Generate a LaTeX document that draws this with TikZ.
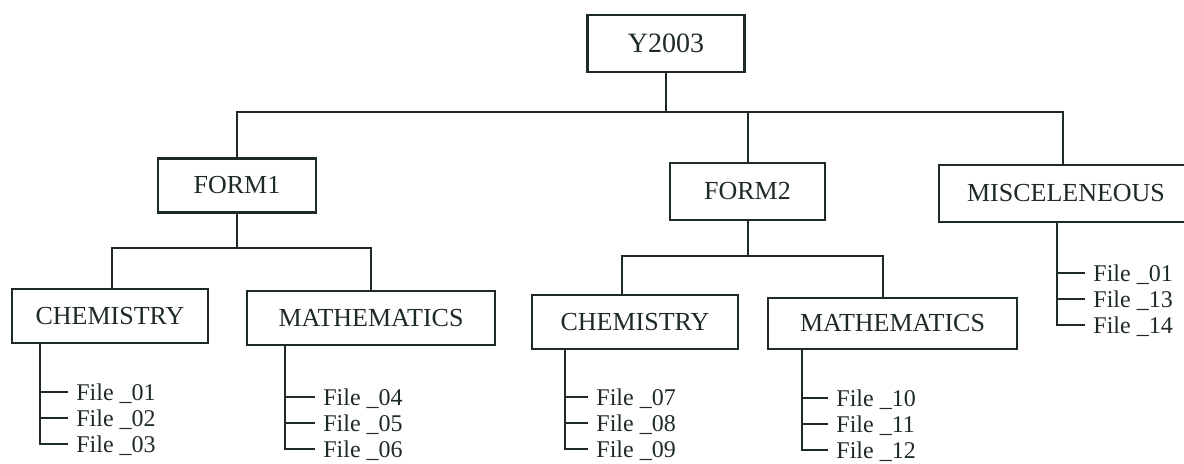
\documentclass[tikz,border=0pt]{standalone}
\usepackage{fontspec}
\setmainfont{Liberation Serif}
\usepackage{tikz}
\usetikzlibrary{positioning,calc}
\definecolor{ink}{RGB}{30,42,38}

\begin{document}
\begin{tikzpicture}[
  x=0.5pt, y=-0.5pt,
  box/.style={draw=ink, line width=1.1pt, inner sep=0pt, text=ink,
              minimum height=27pt, font=\fontsize{13}{13}\selectfont},
  file/.style={anchor=west, inner xsep=4pt, inner ysep=0pt, text=ink,
               text height=10.5pt, text depth=2pt, font=\fontsize{12}{12}\selectfont},
  link/.style={draw=ink, line width=1pt},
]
\useasboundingbox (0,0) rectangle (1184,463);
% top levels
\node[box, minimum width=78.5pt, minimum height=28.5pt, font=\fontsize{14}{14}\selectfont] (year) at (666,43.5) {Y2003};
\node[box, minimum width=79pt] (form1) at (237,185.5) {FORM1};
\node[box, minimum width=77.5pt, minimum height=28.5pt] (form2) at (747.5,191.5) {FORM2};
\node[box, minimum width=127pt, minimum height=28.5pt] (misc) at (1066,193.5) {MISCELENEOUS};
% subjects
\node[box, minimum width=98pt] (chemA) at (110,316) {CHEMISTRY};
\node[box, minimum width=124pt] (mathA) at (371,318) {MATHEMATICS};
\node[box, minimum width=103pt] (chemB) at (635,322) {CHEMISTRY};
\node[box, minimum width=124.5pt, minimum height=25.5pt] (mathB) at (892.5,323.5) {MATHEMATICS};
% files
\node[file] (f01) at (68,392) {File \_01};
\node[file, anchor=north west] (f02) at (f01.south west) {File \_02};
\node[file, anchor=north west] (f03) at (f02.south west) {File \_03};
\node[file] (f04) at (315,397) {File \_04};
\node[file, anchor=north west] (f05) at (f04.south west) {File \_05};
\node[file, anchor=north west] (f06) at (f05.south west) {File \_06};
\node[file] (f07) at (588,397) {File \_07};
\node[file, anchor=north west] (f08) at (f07.south west) {File \_08};
\node[file, anchor=north west] (f09) at (f08.south west) {File \_09};
\node[file] (f10) at (828,398) {File \_10};
\node[file, anchor=north west] (f11) at (f10.south west) {File \_11};
\node[file, anchor=north west] (f12) at (f11.south west) {File \_12};
\node[file] (m01) at (1085,273) {File \_01};
\node[file, anchor=north west] (m13) at (m01.south west) {File \_13};
\node[file, anchor=north west] (m14) at (m13.south west) {File \_14};
% tree lines
\draw[link] (year.south) -- ++(0,39) coordinate (bus0);
\draw[link] (form1.north) |- (bus0) -| ([xshift=-1.5pt]misc.north);
\draw[link] (form2.north) -- (form2.north |- bus0);
\draw[link] (form1.south) -- ++(0,34) coordinate (bus1);
\draw[link] ([xshift=1pt]chemA.north) |- (bus1) -| (mathA.north);
\draw[link] (form2.south) -- ++(0,35) coordinate (bus2);
\draw[link] ([xshift=-6.5pt]chemB.north) |- (bus2) -| ([xshift=-5pt]mathB.north);
% file lists
\draw[link] ([xshift=-35pt]chemA.south) coordinate (tA) |- (f03.west);
\draw[link] (f01.west) -- (f01.west -| tA);
\draw[link] (f02.west) -- (f02.west -| tA);
\draw[link] ([xshift=-43pt]mathA.south) coordinate (tB) |- (f06.west);
\draw[link] (f04.west) -- (f04.west -| tB);
\draw[link] (f05.west) -- (f05.west -| tB);
\draw[link] ([xshift=-35pt]chemB.south) coordinate (tC) |- (f09.west);
\draw[link] (f07.west) -- (f07.west -| tC);
\draw[link] (f08.west) -- (f08.west -| tC);
\draw[link] ([xshift=-45.25pt]mathB.south) coordinate (tD) |- (f12.west);
\draw[link] (f10.west) -- (f10.west -| tD);
\draw[link] (f11.west) -- (f11.west -| tD);
\draw[link] ([xshift=-4.5pt]misc.south) coordinate (tE) |- (m14.west);
\draw[link] (m01.west) -- (m01.west -| tE);
\draw[link] (m13.west) -- (m13.west -| tE);
\end{tikzpicture}
\end{document}
